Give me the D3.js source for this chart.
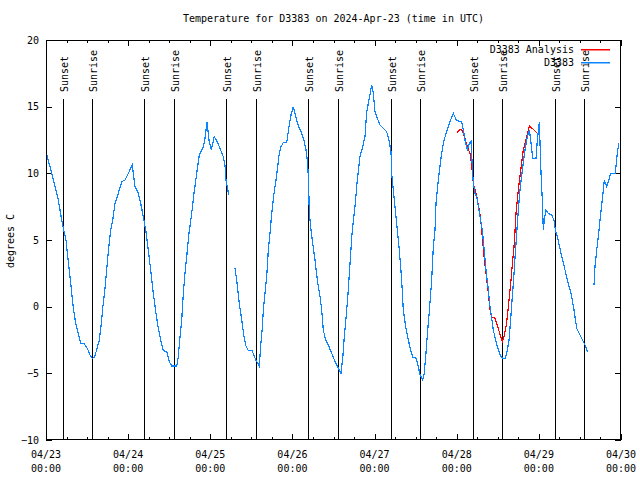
<!DOCTYPE html>
<html>
<head>
<meta charset="utf-8">
<script src="https://cdn.jsdelivr.net/npm/d3@7"></script>
<style>
  html, body { margin: 0; padding: 0; background: #fff; }
  svg { display: block; }
  text { font-family: "DejaVu Sans Mono", monospace; font-size: 10px; fill: #000; }
</style>
</head>
<body>
<svg id="chart" width="640" height="480"></svg>
<script>
// ---------- DATA ----------
const titleText = "Temperature for D3383 on 2024-Apr-23 (time in UTC)";
const yLabel = "degrees C";
const startUTC = Date.UTC(2024, 3, 23, 0, 0);   // 04/23 00:00 UTC
const dayLabels = ["04/23", "04/24", "04/25", "04/26", "04/27", "04/28", "04/29", "04/30"];
const yTicks = [-10, -5, 0, 5, 10, 15, 20];
const seriesNames = ["D3383 Analysis", "D3383"];

// hours since 04/23 00:00 UTC
const sunsetHours  = [4.88, 28.72, 52.68, 76.64, 100.89, 124.85, 148.81];
const sunriseHours = [13.53, 37.49, 61.44, 85.40, 109.36, 133.32, 157.28];

// D3383 observations (null = gap)
const obsHours = [
  0.00, 1.67, 3.59, 4.76, 5.84, 6.52, 7.22, 7.98, 8.68, 9.44, 10.14, 11.19, 12.07, 12.86, 13.53, 14.11,
  14.81, 15.57, 16.07, 16.57, 17.24, 17.73, 18.20, 18.90, 19.49, 20.16, 21.12, 22.12, 23.08, 24.05, 25.21,
  26.00, 26.97, 27.67, 28.43, 29.22, 29.89, 30.59, 31.35, 32.14, 32.81, 33.51, 34.27, 35.27, 36.03, 36.73,
  38.19, 38.65, 39.15, 39.65, 40.12, 40.61, 41.11, 41.78, 42.57, 43.24, 44.03, 44.79, 45.96, 46.46, 47.04,
  47.62, 48.30, 48.71, 49.17, 50.05, 50.84, 51.80, 52.30, 52.59, 52.97, 53.38,
  54.30,
  55.22, 55.72, 56.48, 57.18, 57.85, 58.43, 59.11, 60.28, 60.86, 61.56, 62.32, 62.73, 63.20, 63.49, 63.99,
  64.48, 64.95, 65.54, 65.95, 66.62, 67.41, 68.08, 68.66, 69.33, 70.33, 70.91, 71.58, 72.25, 72.96, 73.72,
  74.71, 75.38, 75.97, 76.46, 76.75, 76.93, 77.43, 77.92, 78.59, 79.27, 80.06, 80.55, 81.02, 81.72, 82.48,
  83.47, 84.44, 85.23, 86.19, 86.69, 87.16, 87.86, 88.32, 88.82, 89.49, 90.28, 90.95, 91.74, 92.53, 93.20,
  93.70, 94.46, 95.16, 95.63, 96.12, 96.80, 97.59, 98.55, 99.54, 100.30, 100.80, 101.00, 101.47, 102.17,
  102.64, 103.22, 103.92, 104.39, 105.09, 105.85, 106.56, 107.14, 108.11, 108.78, 109.28, 110.06, 110.44,
  110.94, 111.41, 111.99, 112.69, 113.16, 113.66, 113.95, 114.62, 115.32, 116.08, 116.87, 117.84, 119.00,
  120.00, 121.46, 121.93, 122.42, 123.09, 123.68, 124.18, 124.56, 124.85, 125.35, 125.85, 126.31, 126.81,
  127.48, 127.98, 128.56, 129.24, 129.73, 130.23, 130.69, 131.39, 132.15, 132.86, 133.44, 134.20, 134.79,
  135.28, 135.78, 136.25, 136.74, 137.12, 137.53, 138.00, 138.49, 139.17, 139.95, 140.63, 141.21, 141.62,
  142.20, 143.17, 143.55, 144.13, 144.63, 145.01, 145.30, 145.59, 146.09, 146.76, 147.75, 148.43, 148.81,
  149.51, 150.68, 151.64, 152.61, 153.60, 154.27, 155.06, 156.02, 156.99, 157.48, 158.16,
  159.10,
  160.11, 160.40, 160.90, 161.37, 162.07, 162.65, 163.12, 163.82, 164.29, 164.99, 166.25, 166.54, 166.92, 167.33
];
const obsTemps = [
  11.62, 10.0, 8.0, 6.25, 5.0, 3.37, 1.75, -0.12, -1.25, -2.0, -2.75, -2.8, -3.12, -3.62, -3.87, -3.8,
  -3.25, -2.5, -1.5, -0.12, 1.37, 2.75, 4.12, 5.75, 6.5, 7.75, 8.5, 9.37, 9.5, 10.0, 10.62,
  9.0, 8.5, 7.75, 6.75, 5.62, 4.25, 2.75, 1.0, -0.5, -1.62, -2.5, -3.3, -3.37, -4.12, -4.45,
  -4.45, -3.75, -2.25, -1.0, 1.0, 2.5, 3.75, 5.5, 7.0, 8.5, 10.0, 11.37, 12.0, 12.62, 13.87,
  12.5, 11.75, 12.25, 12.75, 12.37, 11.87, 11.25, 10.62, 9.5, 9.0, 8.37,
  null,
  2.87, 2.0, 0.25, -1.0, -2.25, -2.95, -3.3, -3.32, -3.75, -4.12, -4.45, -2.87, -1.62, -0.25, 1.0,
  2.25, 4.25, 5.75, 7.0, 8.5, 9.87, 11.37, 12.0, 12.3, 12.3, 13.37, 14.37, 15.0, 14.25, 13.55,
  13.0, 12.5, 11.75, 10.75, 9.0, 7.0, 5.75, 4.75, 3.5, 2.0, 0.75, -0.25, -1.75, -2.5, -2.87,
  -3.5, -4.12, -4.5, -5.0, -3.87, -2.25, -0.25, 1.25, 3.25, 5.75, 7.5, 9.5, 11.25, 12.0, 12.75,
  14.62, 15.62, 16.62, 16.0, 14.62, 14.12, 13.62, 13.37, 13.12, 12.37, 11.62, 10.0, 8.75, 7.0,
  5.75, 4.25, 2.0, -0.25, -1.5, -2.5, -3.25, -3.8, -3.87, -4.5, -5.12, -5.5, -5.12,
  -3.75, -2.12, -0.37, 2.0, 4.5, 5.75, 7.75, 9.5, 11.0, 12.25, 13.0, 13.75, 14.5,
  13.95, 13.87, 13.25, 12.5, 11.75, 12.25, 12.37, 10.5, 9.25, 8.5, 8.25, 7.5, 6.75,
  5.75, 4.37, 2.75, 1.25, 0.0, -0.87, -1.75, -2.5, -3.25, -3.7, -3.87, -3.87, -3.25,
  -2.5, -0.87, 0.75, 2.5, 4.0, 5.5, 7.25, 8.75, 10.25, 11.75, 12.75, 13.25, 12.5,
  11.12, 11.12, 12.5, 13.87, 10.0, 8.0, 5.75, 6.5, 7.25, 7.0, 6.87, 6.5, 5.75,
  5.12, 3.75, 2.75, 1.75, 0.75, -0.25, -1.62, -2.12, -2.62, -2.87, -3.37,
  null,
  1.62, 3.0, 4.25, 5.25, 7.0, 8.25, 9.5, 9.0, 9.37, 10.0, 10.0, 10.5, 11.5, 12.25
];

// D3383 Analysis
const anaHours = [
  120.00, 120.96, 121.64, 122.42, 123.09, 123.88, 124.38, 124.85, 125.85, 126.61, 127.01, 127.48, 127.98,
  128.56, 129.24, 129.73, 130.23, 131.19, 131.69, 132.27, 132.86, 133.32, 133.82, 134.40, 134.90, 135.37,
  135.86, 136.36, 136.83, 137.32, 138.00, 138.70, 139.46, 140.45, 141.21, 142.38, 143.37
];
const anaTemps = [
  13.05, 13.3, 13.2, 12.62, 12.0, 11.5, 10.62, 9.25, 8.25, 7.25, 6.5, 5.25, 3.75,
  2.5, 1.0, -0.25, -0.8, -0.87, -1.25, -1.75, -2.25, -2.62, -2.25, -1.5, -0.5, 0.75,
  2.0, 3.5, 4.75, 7.0, 8.75, 10.25, 11.75, 12.75, 13.55, 13.3, 13.05
];

// ---------- CHART ----------
const HOUR = 3600 * 1000;
const toDate = h => new Date(startUTC + h * HOUR);
const svg = d3.select("#chart");
const L = 46, R = 621, T = 40, B = 440;

const x = d3.scaleUtc().domain([toDate(0), toDate(168)]).range([L, R]);
const y = d3.scaleLinear().domain([-10, 20]).range([B, T]);

const dayDates = dayLabels.map((_, i) => toDate(24 * i));
const minorDates = d3.range(0, 169, 6).filter(h => h % 24 !== 0).map(toDate);

// title
svg.append("text").attr("x", (L + R) / 2).attr("y", 22)
  .attr("text-anchor", "middle").text(titleText);

// y label
svg.append("text").attr("transform", `translate(14,241) rotate(-90)`)
  .attr("text-anchor", "middle").text(yLabel);

// axes (ticks only, inward)
function styleAxis(g) {
  g.select(".domain").remove();
  g.selectAll(".tick line").attr("stroke", "#000").attr("shape-rendering", "crispEdges");
}
svg.append("g").attr("transform", `translate(0,${B})`)
  .call(d3.axisBottom(x).tickValues(dayDates).tickSize(-6).tickFormat(""))
  .call(styleAxis);
svg.append("g").attr("transform", `translate(0,${B})`)
  .call(d3.axisBottom(x).tickValues(minorDates).tickSize(-3).tickFormat(""))
  .call(styleAxis);
svg.append("g").attr("transform", `translate(0,${T})`)
  .call(d3.axisTop(x).tickValues(dayDates).tickSize(-6).tickFormat(""))
  .call(styleAxis);
svg.append("g").attr("transform", `translate(0,${T})`)
  .call(d3.axisTop(x).tickValues(minorDates).tickSize(-3).tickFormat(""))
  .call(styleAxis);
svg.append("g").attr("transform", `translate(${L},0)`)
  .call(d3.axisLeft(y).tickValues(yTicks).tickSize(-6).tickPadding(7).tickFormat(d3.format("d")))
  .call(styleAxis)
  .call(g => g.selectAll("text").attr("font-family", "DejaVu Sans Mono").attr("font-size", 10).attr("fill", "#000"));
svg.append("g").attr("transform", `translate(${R},0)`)
  .call(d3.axisRight(y).tickValues(yTicks).tickSize(-6).tickFormat(""))
  .call(styleAxis);

// x labels (two lines)
const xl = svg.append("g");
dayDates.forEach((d, i) => {
  const t = xl.append("text").attr("text-anchor", "middle");
  t.append("tspan").attr("x", x(d)).attr("y", 458).text(dayLabels[i]);
  t.append("tspan").attr("x", x(d)).attr("y", 472).text(d3.utcFormat("%H:%M")(d));
});

// sunset / sunrise markers
const events = [];
sunsetHours.forEach(h => events.push({ h, label: "Sunset" }));
sunriseHours.forEach(h => events.push({ h, label: "Sunrise" }));
const ev = svg.append("g");
events.forEach(e => {
  const xx = Math.round(x(toDate(e.h))) + 0.5;
  ev.append("line").attr("x1", xx).attr("x2", xx).attr("y1", 99).attr("y2", B)
    .attr("stroke", "#000").attr("stroke-width", 1).attr("shape-rendering", "crispEdges");
  ev.append("text").attr("transform", `translate(${xx + 4},92) rotate(-90)`)
    .attr("text-anchor", "start").text(e.label);
});

// lines
const line = d3.line()
  .defined(d => d.v !== null)
  .x(d => x(toDate(d.h)))
  .y(d => y(d.v));
const anaData = anaHours.map((h, i) => ({ h, v: anaTemps[i] }));
const obsData = obsHours.map((h, i) => ({ h, v: obsTemps[i] }));

svg.append("path").datum(anaData).attr("d", line)
  .attr("fill", "none").attr("stroke", "#ff0000").attr("stroke-width", 1.2)
  .attr("shape-rendering", "crispEdges");
svg.append("path").datum(obsData).attr("d", line)
  .attr("fill", "none").attr("stroke", "#0a84ff").attr("stroke-width", 1.2)
  .attr("shape-rendering", "crispEdges");

// frame
svg.append("rect").attr("x", L + 0.5).attr("y", T + 0.5)
  .attr("width", R - L - 1).attr("height", B - T - 1)
  .attr("fill", "none").attr("stroke", "#000").attr("shape-rendering", "crispEdges");

// legend
const legColors = ["#ff0000", "#0a84ff"];
seriesNames.forEach((name, i) => {
  const yy = 49 + i * 13;
  svg.append("text").attr("x", 574).attr("y", yy + 4).attr("text-anchor", "end").text(name);
  svg.append("rect").attr("x", 581).attr("y", yy).attr("width", 29).attr("height", 1.5)
    .attr("fill", legColors[i]);
});
</script>
</body>
</html>
